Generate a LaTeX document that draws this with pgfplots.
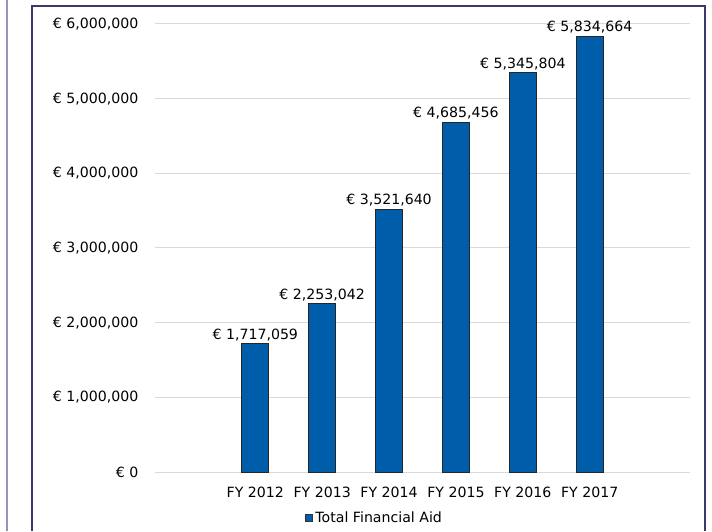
\documentclass[border=0pt]{standalone}
\usepackage{pgfplots}
\usepackage{pgfplotstable}
\pgfplotsset{compat=1.18}
\usepackage{fontspec}
\setmainfont{DejaVu Sans}
\definecolor{barblue}{RGB}{0,93,170}
\definecolor{framec}{RGB}{60,56,110}
\definecolor{leftc}{RGB}{150,148,185}
\definecolor{gridc}{RGB}{217,217,217}
\pgfplotstableread{
x y label
1 1717059 {€ 1,717,059}
2 2253042 {€ 2,253,042}
3 3521640 {€ 3,521,640}
4 4685456 {€ 4,685,456}
5 5345804 {€ 5,345,804}
6 5834664 {€ 5,834,664}
}\aidtable
\begin{document}
\begin{tikzpicture}[x=0.75pt,y=0.75pt]
\useasboundingbox (0,0) rectangle (712,531);
\draw[leftc, line width=0.9pt] (7,0) -- (7,531);
\draw[framec, line width=0.9pt] (32,0) -- (32,525) -- (705,525) -- (705,0);
\begin{axis}[
  at={(155*0.75pt,59*0.75pt)}, anchor=south west,
  scale only axis, width=401.25pt, height=336pt,
  xmin=-0.5, xmax=7.5, ymin=0, ymax=6000000,
  axis line style={draw=none},
  major tick length=0pt,
  ymajorgrids, grid style={gridc, line width=0.75pt},
  xtick={1,2,3,4,5,6},
  xticklabels={FY 2012, FY 2013, FY 2014, FY 2015, FY 2016, FY 2017},
  ytick={0,1000000,2000000,3000000,4000000,5000000,6000000},
  yticklabels={{€ 0},{€ 1,000,000},{€ 2,000,000},{€ 3,000,000},{€ 4,000,000},{€ 5,000,000},{€ 6,000,000}},
  scaled y ticks=false,
  tick label style={font=\fontsize{10.6}{12.7}\selectfont},
  yticklabel style={xshift=-9pt},
  xticklabel style={yshift=-7.5pt},
  clip=false,
  legend style={at={(0.411,-0.102)}, anchor=center, draw=none, fill=none,
    font=\fontsize{10.6}{12.7}\selectfont, inner sep=0pt},
  legend image code/.code={\fill[barblue, draw=black!80, line width=0.5pt] (0pt,-2.6pt) rectangle (5.2pt,2.6pt);},
]
\addplot[ybar, bar width=20.25pt, fill=barblue, draw=black!85, line width=0.6pt,
  point meta=explicit symbolic,
  nodes near coords, nodes near coords style={font=\fontsize{10.6}{12.7}\selectfont, black, inner sep=2pt}]
  table[x=x, y=y, meta=label]{\aidtable};
\addlegendentry{Total Financial Aid}
\end{axis}
\end{tikzpicture}
\end{document}
